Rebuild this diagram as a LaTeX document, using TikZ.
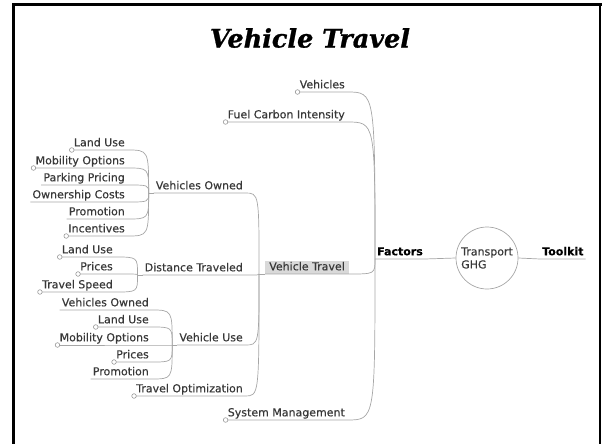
\documentclass[tikz,border=0pt]{standalone}
\usepackage{fontspec}
\newfontfamily\mapfont[FakeBold=0.4]{DejaVu Sans}
\newfontfamily\boldfont[FakeBold=0.3]{DejaVu Sans Bold}
\newfontfamily\titlefont[BoldItalicFeatures={FakeBold=1}]{DejaVu Serif}

\tikzset{
  topic/.style={anchor=south east, inner xsep=2pt, inner ysep=1pt,
    text height=8pt, text depth=2.5pt, text=black!78,
    font=\mapfont\fontsize{11}{13}\selectfont},
  link/.style={draw=black!35, line width=0.7pt},
  knob/.style={draw=black!40, fill=white, line width=0.6pt},
  frame/.style={line width=2.6pt, line cap=rect},
}
% underline of a topic, then curve to its parent's junction
\newcommand{\branch}[2]{\draw[link] (#1.south west) -- (#1.south east)
  .. controls (#1.south east -| #2) .. (#2);}
\newcommand{\knob}[1]{\draw[knob] (#1.south west) circle (2.3);}

\begin{document}
\begin{tikzpicture}[x=1pt,y=-1pt]
    \useasboundingbox (0,0) rectangle (602,444);
    \draw[frame] (13.5,444) -- (13.5,4.5) -- (600.3,4.5);
    \draw[frame, line width=2pt] (600.3,4.5) -- (600.3,444);
    \node[font=\titlefont\bfseries\itshape\fontsize{25.5}{29}\selectfont] (title) at (310,38) {Vehicle Travel};

    % centre and the two sides
    \node[circle, draw=black!35, line width=0.7pt, minimum size=62pt, inner sep=0pt,
      align=left, text=black!78, font=\mapfont\fontsize{11}{13}\selectfont] (ghg) at (487,258) {Transport\\GHG};
    \node[topic, anchor=south west, text=black, font=\boldfont\fontsize{11}{13}\selectfont] (fac) at (375,259) {Factors};
    \node[topic, anchor=south west, text=black, font=\boldfont\fontsize{11}{13}\selectfont] (tk) at (540,259) {Toolkit};
    \draw[link] (fac.south west) -- (fac.south east) -- (ghg.west);
    \draw[link] (ghg.east) -- (tk.south west) -- (tk.south east);

    % factors
    \node[topic, fill=black!15, inner xsep=4pt] (vt) at (349,274) {Vehicle Travel};
    \coordinate (vtj) at ([xshift=-6pt]vt.south west);
    \draw[link] (vtj) -- (vt.south west);
    \branch{vt}{fac.south west}
    \foreach \n/\t/\y in {veh/Vehicles/92, fci/Fuel Carbon Intensity/122, sm/System Management/420} {
      \node[topic] (\n) at (347,\y) {\t};
      \branch{\n}{fac.south west}
      \knob{\n}
    }

    % vehicle travel
    \foreach \n/\t/\y/\k in {vo/Vehicles Owned/193/0, dt/Distance Traveled/275/0,
        vu/Vehicle Use/345/0, op/Travel Optimization/396/1} {
      \node[topic] (\n) at (245,\y) {\t};
      \coordinate (\n j) at ([xshift=-5pt]\n.south west);
      \branch{\n}{vtj}
      \ifnum\k=1 \knob{\n}\else \draw[link] (\n j) -- (\n.south west);\fi
    }

    % vehicles owned
    \foreach \n/\t/\y/\k in {c1/Land Use/150/1, c2/Mobility Options/168/1, c3/Parking Pricing/185/0,
        c4/Ownership Costs/202/0, c5/Promotion/219/0, c6/Incentives/236/1} {
      \node[topic] (\n) at (127,\y) {\t};
      \branch{\n}{voj}
      \ifnum\k=1 \knob{\n}\fi
    }

    % distance traveled
    \foreach \n/\t/\y in {d1/Land Use/257, d2/Prices/274, d3/Travel Speed/292} {
      \node[topic] (\n) at (115,\y) {\t};
      \branch{\n}{dtj}
      \knob{\n}
    }

    % vehicle use
    \foreach \n/\t/\y/\k in {e1/Vehicles Owned/310/0, e2/Land Use/327/1, e3/Mobility Options/345/1,
        e4/Prices/362/1, e5/Promotion/379/0} {
      \node[topic] (\n) at (151,\y) {\t};
      \branch{\n}{vuj}
      \ifnum\k=1 \knob{\n}\fi
    }
\end{tikzpicture}
\end{document}
